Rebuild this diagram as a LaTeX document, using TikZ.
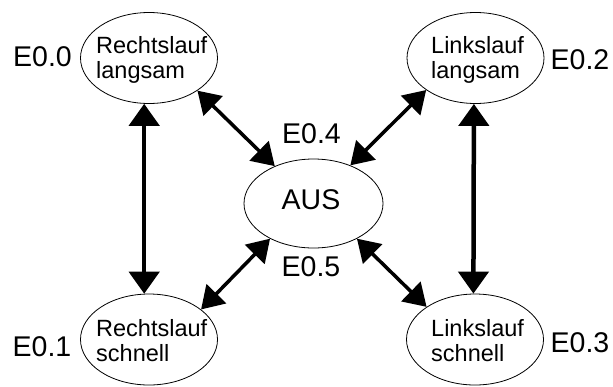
\documentclass[tikz,border=0pt]{standalone}
\usepackage{fontspec}
\setmainfont{Liberation Sans}
\usetikzlibrary{shapes.geometric,arrows.meta}
\tikzset{
 state/.style={draw, ellipse, line width=0.8bp, minimum width=137bp, minimum height=91bp, inner sep=0pt},
 stxt/.style={anchor=base west, inner sep=0pt, font=\fontsize{23.5bp}{25bp}\selectfont},
 lbl/.style={anchor=base, inner sep=0pt, font=\fontsize{28.5bp}{30bp}\selectfont},
 varrow/.style={line width=4.5bp, {Triangle[length=22bp,width=30bp]}-{Triangle[length=22bp,width=30bp]}},
 darrow/.style={line width=3.5bp, {Triangle[length=22bp,width=27bp]}-{Triangle[length=22bp,width=27bp]}},
}
\begin{document}
\begin{tikzpicture}[x=1bp,y=-1bp]
\fill[white] (0,0) rectangle (613,386);
\useasboundingbox (0,0) rectangle (613,386);
% ellipses
\node[state] (TL) at (149,58) {};
\node[state] (TR) at (475.5,58) {};
\node[state, minimum width=139bp, minimum height=89bp] (C) at (313.5,203.5) {};
\node[state] (BL) at (149,339.5) {};
\node[state] (BR) at (475,339.5) {};
% texts inside
\node[stxt] (tTL) at (96,53) {\vtop{\hbox{Rechtslauf}\hbox{langsam}}};
\node[stxt] (tTR) at (431,53) {\vtop{\hbox{Linkslauf}\hbox{langsam}}};
\node[stxt] (tBL) at (96,336) {\vtop{\hbox{Rechtslauf}\hbox{schnell}}};
\node[stxt] (tBR) at (431,336) {\vtop{\hbox{Linkslauf}\hbox{schnell}}};
\node[lbl] (tC) at (311,209) {AUS};
% labels
\node[lbl] (l0) at (42.5,66) {E0.0};
\node[lbl] (l1) at (42,356) {E0.1};
\node[lbl] (l2) at (580,69) {E0.2};
\node[lbl] (l3) at (580,352) {E0.3};
\node[lbl] (l4) at (311.5,143) {E0.4};
\node[lbl] (l5) at (311,276) {E0.5};
% connectors
\draw[varrow] (TL.-96) -- (BL.96);
\draw[varrow] (TR.-92) -- (BR.92);
\draw[darrow] (TL.-34) -- (C.136);
\draw[darrow] (TR.-147) -- (C.46);
\draw[darrow] (BL.30) -- (C.219);
\draw[darrow] (BR.146) -- (C.-39);
\end{tikzpicture}
\end{document}
